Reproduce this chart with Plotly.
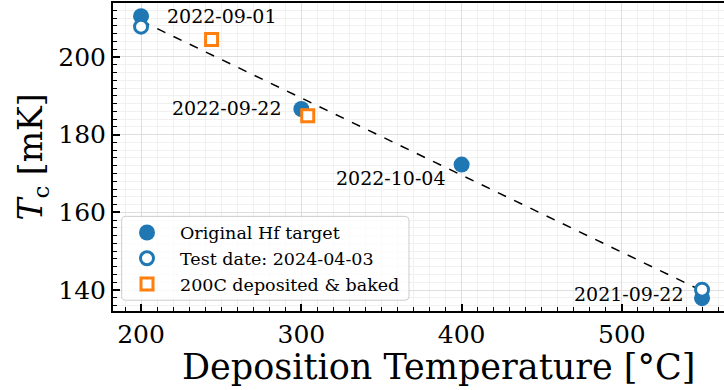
import plotly.graph_objects as go
import re

# Data
orig_x = [200, 300, 400, 550]
orig_y = [210.5, 186.6, 172.3, 137.9]
orig_labels = ["2022-09-01", "2022-09-22", "2022-10-04", "2021-09-22"]

retest_x = [200, 550]
retest_y = [207.8, 140.1]

baked_x = [244, 304]
baked_y = [204.5, 184.9]

fit_x = [200, 550]
fit_y = [209.3, 139.8]

BLUE = "#1f77b4"
ORANGE = "#ff7f0e"
FONT = "DejaVu Serif"

fig = go.Figure()
fig.add_trace(go.Scatter(x=fit_x, y=fit_y, mode="lines",
                         line=dict(color="black", width=1.5, dash="dash"),
                         showlegend=False, hoverinfo="skip"))
fig.add_trace(go.Scatter(x=orig_x, y=orig_y, mode="markers", name="Original Hf target",
                         marker=dict(symbol="circle", size=16, color=BLUE,
                                     line=dict(width=0))))
fig.add_trace(go.Scatter(x=retest_x, y=retest_y, mode="markers", name="Test date: 2024-04-03",
                         marker=dict(symbol="circle", size=13, color="white",
                                     line=dict(color=BLUE, width=3))))
fig.add_trace(go.Scatter(x=baked_x, y=baked_y, mode="markers", name="200C deposited &amp; baked",
                         marker=dict(symbol="square", size=12, color="white",
                                     line=dict(color=ORANGE, width=3))))

# annotations for dates
shifts = [(24, 0, "left"), (-17, 1, "right"), (-14, -13, "right"), (-16, 4, "right")]
for x, y, t, (dx, dy, anc) in zip(orig_x, orig_y, orig_labels, shifts):
    fig.add_annotation(x=x, y=y, text=t, showarrow=False, xanchor=anc, yanchor="middle",
                       xshift=dx, yshift=dy, font=dict(family=FONT, size=19, color="black"))

# legend background (rounded box)
x0, y0, x1, y1 = 121.7, 216.7, 409, 300.7
W, H = 724, 390
ml, mt, mr, mb = 113, 3, 0, 78.5
pw, ph = W - ml - mr, H - mt - mb
def px(xp): return (xp - ml) / pw
def py(yp): return 1 - (yp - mt) / ph
r = 4
path = (f"M {x0+r},{y0} L {x1-r},{y0} Q {x1},{y0} {x1},{y0+r} L {x1},{y1-r} Q {x1},{y1} {x1-r},{y1} "
        f"L {x0+r},{y1} Q {x0},{y1} {x0},{y1-r} L {x0},{y0+r} Q {x0},{y0} {x0+r},{y0} Z")
def conv(m):
    a, b = float(m.group(1)), float(m.group(2))
    return f"{px(a):.5f},{py(b):.5f}"
ppath = re.sub(r"([\d.]+),([\d.]+)", conv, path)
fig.add_shape(type="path", path=ppath, xref="paper", yref="paper",
              fillcolor="rgba(255,255,255,0.8)", line=dict(color="#cccccc", width=1), layer="above")

# x axis title (placed as annotation to match the reference's centring)
fig.add_annotation(text="Deposition Temperature [°C]", xref="paper", yref="paper",
                   x=px(438), y=py(368), xanchor="center", yanchor="middle", showarrow=False,
                   font=dict(family=FONT, size=35, color="black"))

grid_major = "#dedede"
grid_minor = "#f0f0f0"

fig.update_layout(
    width=W, height=H,
    margin=dict(l=ml, r=mr, t=mt, b=mb, pad=0),
    plot_bgcolor="white", paper_bgcolor="white",
    font=dict(family=FONT, color="black"),
    legend=dict(x=px(114), y=py(215), xanchor="left", yanchor="top",
                bgcolor="rgba(0,0,0,0)", borderwidth=0,
                font=dict(family=FONT, size=17.5), itemwidth=56, tracegroupgap=0),
    xaxis=dict(range=[182.5, 563.7], tickvals=[200, 300, 400, 500],
               showline=True, linecolor="black", linewidth=2, mirror=True,
               ticks="inside", ticklen=7, tickwidth=1.5, tickcolor="black",
               tickfont=dict(family=FONT, size=25),
               showgrid=True, gridcolor=grid_major, gridwidth=1, zeroline=False,
               minor=dict(dtick=10, ticks="inside", ticklen=4, tickwidth=1.2, tickcolor="black",
                          showgrid=True, gridcolor=grid_minor, gridwidth=1)),
    yaxis=dict(range=[134.6, 213.9], tickvals=[140, 160, 180, 200],
               showline=True, linecolor="black", linewidth=2,
               ticks="inside", ticklen=7, tickwidth=1.5, tickcolor="black",
               tickfont=dict(family=FONT, size=25),
               showgrid=True, gridcolor=grid_major, gridwidth=1, zeroline=False,
               minor=dict(dtick=2, ticks="inside", ticklen=4, tickwidth=1.2, tickcolor="black",
                          showgrid=True, gridcolor=grid_minor, gridwidth=1),
               title=dict(text="<i>T</i><sub>c</sub> [mK]", font=dict(family=FONT, size=33),
                          standoff=6)),
)

fig.write_html("out.html")
